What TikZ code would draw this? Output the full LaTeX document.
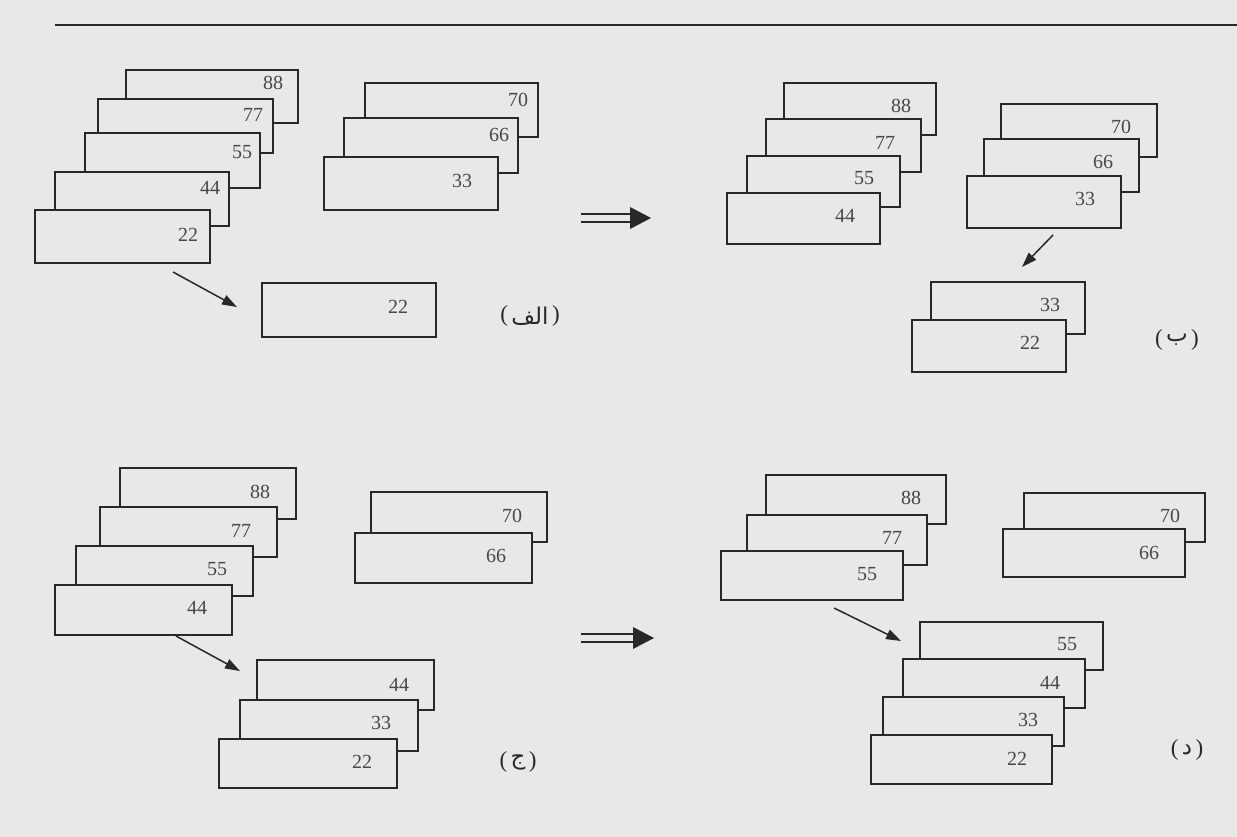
\documentclass[tikz,border=0pt]{standalone}
\usepackage{fontspec}
\setmainfont{Liberation Serif}
\newfontfamily\arabicfont[Script=Arabic]{DejaVu Sans}
\TeXXeTstate=1
\usetikzlibrary{arrows.meta}
\definecolor{paper}{RGB}{233,232,230}
\definecolor{ink}{RGB}{40,40,40}
\tikzset{
  card/.style={draw=ink, line width=1.8pt, fill=paper, inner sep=0pt, outer sep=0pt},
  num/.style={text=ink!85, font=\fontsize{20}{20}\selectfont, inner sep=0pt},
  lbl/.style={text=ink, font=\fontsize{23}{23}\selectfont, inner sep=0pt},
  move/.style={draw=ink, line width=1.5pt, -{Triangle[length=15pt,width=10pt]}},
  dblline/.style={draw=ink, line width=2.8pt},
}
\newcommand\crd[8]{%
  \node[card, minimum width={(#4-#2)*1pt}, minimum height={(#5-#3)*1pt}] (#1) at ({(#2+#4)/2},{(#3+#5)/2}) {};
  \node[num] (#1t) at (#7,#8) {#6};
}
\newcommand\dblarrow[4]{% name, x1, x2, y
  \coordinate (#1s) at (#2,#4);
  \coordinate (#1e) at (#3,#4);
  \draw[dblline] ([yshift=4pt]#1s) -- ([xshift=-18pt,yshift=4pt]#1e);
  \draw[dblline] ([yshift=-4pt]#1s) -- ([xshift=-18pt,yshift=-4pt]#1e);
  \fill[ink] ([xshift=-21pt,yshift=11pt]#1e) -- (#1e) -- ([xshift=-21pt,yshift=-11pt]#1e) -- cycle;
}
\newcommand\plabel[4]{% name, x, y, arabic text
  \node[lbl] (#1) at (#2,#3) {\arabicfont\beginR #4\endR};
  \node[lbl, anchor=east] (#1L) at ([xshift=-3pt]#1.west) {(};
  \node[lbl, anchor=west] (#1R) at ([xshift=3pt]#1.east) {)};
}
\begin{document}
\begin{tikzpicture}[x=1pt,y=-1pt]
\useasboundingbox (0,0) rectangle (1237,837);
\fill[paper] (0,0) rectangle (1237,837);
% top rule
\coordinate (r1) at (55,25);
\coordinate (r2) at (1237,25);
\draw[ink, line width=1.8pt] (r1) -- (r2);

% ---------- panel (alef) ----------
\crd{a88}{126}{70}{298}{123}{88}{273}{83}
\crd{a77}{98}{99}{273}{153}{77}{253}{115}
\crd{a55}{85}{133}{260}{188}{55}{242}{152}
\crd{a44}{55}{172}{229}{226}{44}{210}{188}
\crd{a22}{35}{210}{210}{263}{22}{188}{235}
\crd{a70}{365}{83}{538}{137}{70}{518}{100}
\crd{a66}{344}{118}{518}{173}{66}{499}{135}
\crd{a33}{324}{157}{498}{210}{33}{462}{181}
\crd{ax22}{262}{283}{436}{337}{22}{398}{307}
\coordinate (am1) at (173,272);
\coordinate (am2) at (237,307);
\draw[move] (am1) -- (am2);
\plabel{la}{530}{316}{الف}
\dblarrow{da}{581}{651}{218}

% ---------- panel (be) ----------
\crd{b88}{784}{83}{936}{135}{88}{901}{106}
\crd{b77}{766}{119}{921}{172}{77}{885}{143}
\crd{b55}{747}{156}{900}{207}{55}{864}{178}
\crd{b44}{727}{193}{880}{244}{44}{845}{216}
\crd{b70}{1001}{104}{1157}{157}{70}{1121}{127}
\crd{b66}{984}{139}{1139}{192}{66}{1103}{162}
\crd{b33}{967}{176}{1121}{228}{33}{1085}{199}
\crd{bx33}{931}{282}{1085}{334}{33}{1050}{305}
\crd{bx22}{912}{320}{1066}{372}{22}{1030}{343}
\coordinate (bm1) at (1053,235);
\coordinate (bm2) at (1022,267);
\draw[move] (bm1) -- (bm2);
\plabel{lb}{1177}{340}{ب}

% ---------- panel (jim) ----------
\crd{c88}{120}{468}{296}{519}{88}{260}{492}
\crd{c77}{100}{507}{277}{557}{77}{241}{531}
\crd{c55}{76}{546}{253}{596}{55}{217}{569}
\crd{c44}{55}{585}{232}{635}{44}{197}{608}
\crd{c70}{371}{492}{547}{542}{70}{512}{516}
\crd{c66}{355}{533}{532}{583}{66}{496}{556}
\crd{cx44}{257}{660}{434}{710}{44}{399}{685}
\crd{cx33}{240}{700}{418}{751}{33}{381}{723}
\crd{cx22}{219}{739}{397}{788}{22}{362}{762}
\coordinate (cm1) at (176,636);
\coordinate (cm2) at (240,671);
\draw[move] (cm1) -- (cm2);
\plabel{lc}{518}{762}{ج}
\dblarrow{dc}{581}{654}{638}

% ---------- panel (dal) ----------
\crd{d88}{766}{475}{946}{524}{88}{911}{498}
\crd{d77}{747}{515}{927}{565}{77}{892}{538}
\crd{d55}{721}{551}{903}{600}{55}{867}{574}
\crd{d70}{1024}{493}{1205}{542}{70}{1170}{516}
\crd{d66}{1003}{529}{1185}{577}{66}{1149}{553}
\crd{dx55}{920}{622}{1103}{670}{55}{1067}{644}
\crd{dx44}{903}{659}{1085}{708}{44}{1050}{683}
\crd{dx33}{883}{697}{1064}{746}{33}{1028}{720}
\crd{dx22}{871}{735}{1052}{784}{22}{1017}{759}
\coordinate (dm1) at (834,608);
\coordinate (dm2) at (901,641);
\draw[move] (dm1) -- (dm2);
\plabel{ld}{1187}{750}{د}
\end{tikzpicture}
\end{document}
